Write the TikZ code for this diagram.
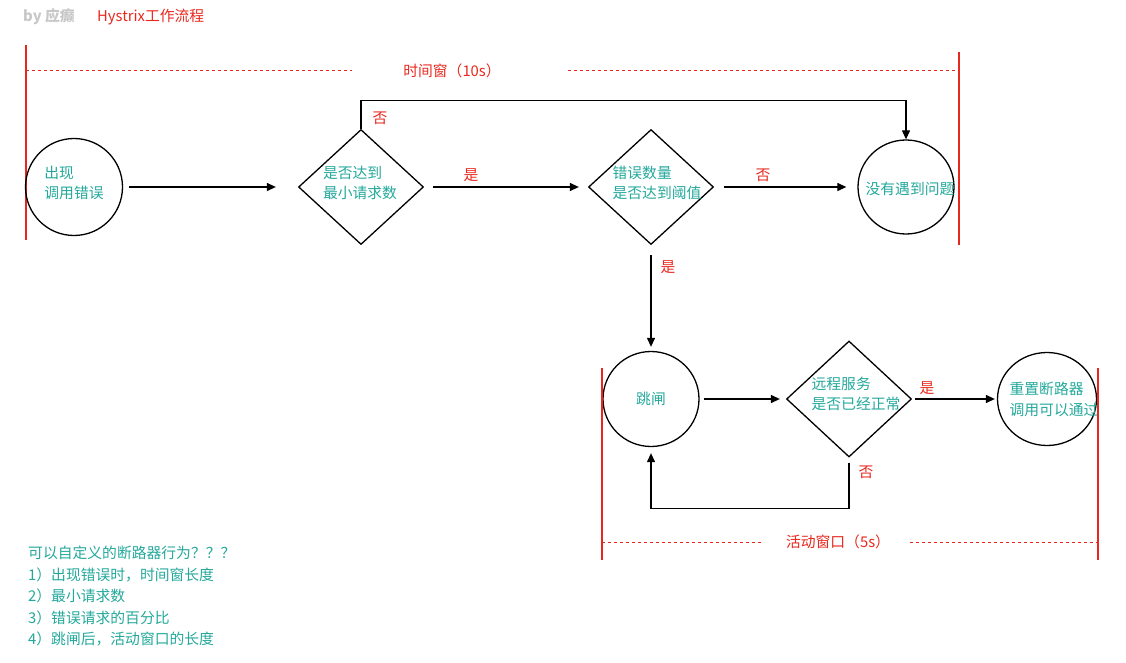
\documentclass[tikz,border=0pt]{standalone}
\usepackage{fontspec}
\setmainfont{Noto Sans CJK SC}
\usetikzlibrary{shapes.geometric,arrows.meta}
\definecolor{tealc}{RGB}{36,168,155}
\definecolor{redc}{RGB}{232,40,30}
\definecolor{grayc}{RGB}{200,200,200}
\begin{document}
\begin{tikzpicture}[x=1pt,y=-1pt,
 every node/.style={font=\fontsize{14.8}{20.5}\selectfont},
 circ/.style={draw,ellipse,line width=1.3pt,minimum width=97pt,minimum height=97pt,inner sep=0pt},
 dia/.style={draw,diamond,line width=1.3pt,minimum width=125pt,minimum height=115pt,inner sep=0pt},
 txt/.style={text=tealc,align=left,inner sep=0pt},
 lab/.style={text=redc,inner sep=0pt},
 arr/.style={-{Triangle[length=9pt,width=8pt]},line width=1.2pt},
 win/.style={draw=redc,line width=1.2pt},
 dashline/.style={draw=redc,line width=1pt,dash pattern=on 3pt off 3pt}
]
\path[use as bounding box] (0,0) rectangle (1126,663);

% title
\node[anchor=west,text=grayc,inner sep=0pt,font=\fontsize{14.8}{18}\selectfont\bfseries] (by) at (23,17) {by 应癫};
\node[anchor=west,text=redc,inner sep=0pt] (title) at (97,17) {Hystrix工作流程};

% time window
\coordinate (w1a) at (26,45); \coordinate (w1b) at (26,240);
\coordinate (w2a) at (959,52); \coordinate (w2b) at (959,245);
\draw[win] (w1a) -- (w1b);
\draw[win] (w2a) -- (w2b);
\coordinate (wl1) at (26,71); \coordinate (wl2) at (352,71);
\coordinate (wr1) at (568,71); \coordinate (wr2) at (959,71);
\draw[dashline] (wl1) -- (wl2);
\draw[dashline] (wr1) -- (wr2);
\node[lab] (tw) at (452,71) {时间窗（10s）};

% shapes
\node[circ] (c1) at (74,187) {};
\node[dia] (d1) at (361,187) {};
\node[dia] (d2) at (651,187) {};
\node[circ,minimum height=94pt,minimum width=96pt] (c3) at (906,187) {};
\node[circ,minimum height=95pt,minimum width=96pt] (jc) at (651,399) {};
\node[dia,minimum height=116pt] (d3) at (849,399) {};
\node[circ,minimum height=93pt,minimum width=99pt] (c5) at (1047,399) {};

% texts
\node[txt] (t1) at (74,183) {出现\\调用错误};
\node[txt] (t2) at (360,183) {是否达到\\最小请求数};
\node[txt] (t3) at (657,183) {错误数量\\是否达到阈值};
\node[txt] (t4) at (910,189) {没有遇到问题};
\node[txt] (t5) at (651,399) {跳闸};
\node[txt] (t6) at (856,394) {远程服务\\是否已经正常};
\node[txt] (t7) at (1054,399.5) {重置断路器\\调用可以通过};

% connectors
\draw[arr,shorten <=6pt,shorten >=22pt] (c1.east) -- (d1.west);
\draw[arr,shorten <=9pt,shorten >=9pt] (d1.east) -- (d2.west);
\draw[arr,shorten <=10pt,shorten >=11pt] (d2.east) -- (c3.west);
\draw[arr] (d1.north) -- ++(0,-28) -| (c3.north);
\draw[arr,shorten <=10pt,shorten >=4pt] (d2.south) -- (jc.north);
\draw[arr,shorten <=4pt,shorten >=6pt] (jc.east) -- (d3.west);
\draw[arr,shorten <=3pt,shorten >=2pt] (d3.east) -- (c5.west);
\draw[arr,shorten <=5pt,shorten >=6pt] (d3.south) -- ++(0,51) -| (jc.south);

% labels
\node[lab] (l1) at (380,118) {否};
\node[lab] (l2) at (471,175) {是};
\node[lab] (l3) at (763,175) {否};
\node[lab] (l4) at (668,267) {是};
\node[lab] (l5) at (927,388) {是};
\node[lab] (l6) at (866,472) {否};

% active window
\coordinate (a1a) at (602,368); \coordinate (a1b) at (602,560);
\coordinate (a2a) at (1098,368); \coordinate (a2b) at (1098,560);
\draw[win] (a1a) -- (a1b);
\draw[win] (a2a) -- (a2b);
\coordinate (al1) at (602,542); \coordinate (al2) at (764,542);
\coordinate (ar1) at (910,542); \coordinate (ar2) at (1098,542);
\draw[dashline] (al1) -- (al2);
\draw[dashline] (ar1) -- (ar2);
\node[lab] (ta) at (838,542) {活动窗口（5s）};

% notes
\node[txt,anchor=north west,font=\fontsize{14.8}{21.5}\selectfont] (notes) at (28,546) {可以自定义的断路器行为？？？\\1）出现错误时，时间窗长度\\2）最小请求数\\3）错误请求的百分比\\4）跳闸后，活动窗口的长度};
\end{tikzpicture}
\end{document}
